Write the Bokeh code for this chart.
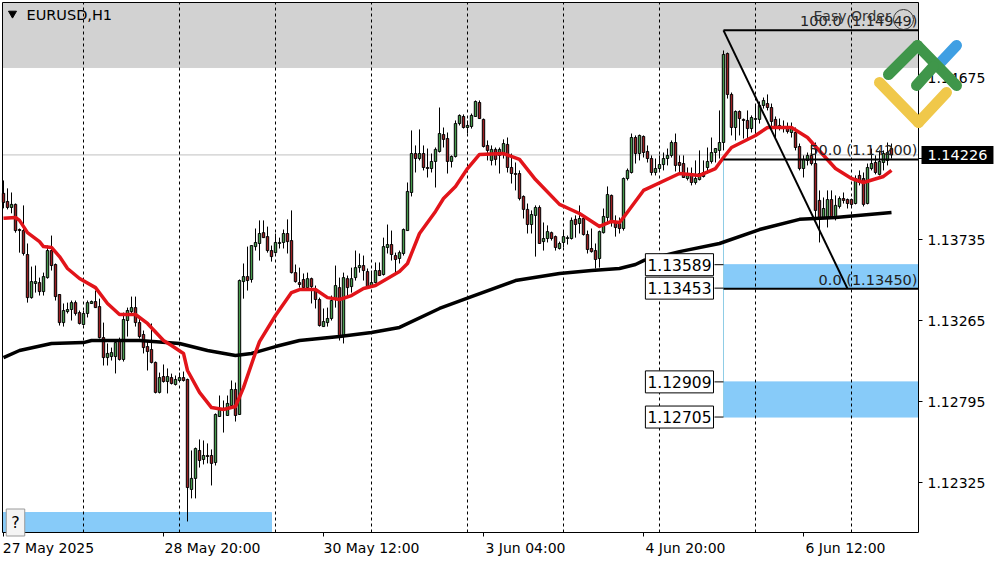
from bokeh.embed import file_html
from bokeh.models import (Arrow, ColumnDataSource, FixedTicker, Label,
                          PrintfTickFormatter, Range1d)
from bokeh.plotting import figure
from bokeh.resources import INLINE

# Quotes, in points (1 point = 0.00001)
open_pts = [114003,113956,113921,113939,113793,113787,113648,113398,113480,113485,113433,113514,113671,113590,113416,113253,113317,113329,113369,113311,113242,113306,113364,113375,113346,113166,113050,113056,113056,113149,113039,113265,113317,113340,113253,113184,113114,113097,113022,112848,112940,112911,112934,112894,112917,112934,112923,112285,112349,112511,112459,112482,112482,112441,112708,112755,112714,112772,112865,112720,113491,113520,113503,113694,113712,113775,113752,113671,113659,113712,113718,113770,113729,113543,113485,
113503,113456,113508,113439,113387,113230,113253,113277,113387,113456,113172,113508,113462,113514,113572,113584,113549,113462,113485,113555,113532,113689,113706,113642,113625,113654,113787,114008,114234,114205,114234,114153,114147,114188,114246,114344,114321,114188,114217,114408,114449,114385,114391,114449,114530,114432,114281,114194,114258,114223,114234,114287,114153,114118,114118,113985,113910,113822,113875,113921,113723,113741,113775,113752,113683,113718,113741,113741,113852,113828,113857,113764,113683,113671,113625,113775,113863,113991,113834,113828,113799,114089,114124,114327,114234,114333,114246,114205,114124,114147,114170,114205,114223,114298,114182,114176,114089,114118,114066,114083,114124,114153,114188,114240,114252,114298,114814,114577,114385,114478,114432,114426,114379,114432,114432,114513,114524,114501,114432,114385,114391,114385,114356,114356,114275,114147,114194,114223,114176,113962,113863,113863,113967,113863,113927,113973,113967,113967,113944,114107,114089,113944,114147,114182,114113,114182,114194,114263]
high_pts = [114078,114032,114008,113944,113799,113933,113712,113578,113584,113514,113543,113700,113758,113596,113416,113364,113369,113381,113381,113323,113323,113381,113381,113439,113392,113253,113132,113108,113149,113166,113311,113340,113404,113404,113288,113207,113149,113248,113027,112963,113010,112987,112957,112946,112963,112969,112928,112511,112528,112575,112569,112552,112517,112726,112830,112801,112830,112917,112905,113503,113596,113694,113700,113799,113846,113846,113810,113700,113770,113746,113793,113852,113904,113590,113572,
113538,113543,113514,113468,113398,113335,113340,113410,113584,113514,113543,113526,113572,113671,113654,113642,113567,113555,113602,113602,113746,113822,113787,113659,113671,113799,114066,114368,114281,114374,114281,114263,114234,114269,114501,114385,114356,114223,114426,114461,114461,114426,114466,114542,114542,114437,114310,114281,114269,114269,114316,114327,114234,114182,114136,113991,113944,113904,113933,113933,113834,113817,113781,113758,113723,113781,113758,113863,113875,113933,113875,113787,113799,113712,113787,113915,114043,113996,113875,113863,114095,114147,114350,114339,114344,114339,114281,114223,114205,114223,114240,114263,114310,114350,114223,114223,114153,114153,114194,114252,114194,114269,114327,114263,114484,114832,114820,114588,114484,114484,114437,114484,114455,114513,114536,114559,114577,114524,114449,114437,114426,114414,114414,114385,114292,114223,114240,114292,114298,114020,113979,114020,114020,113991,113985,114008,113973,113973,114107,114136,114124,114176,114263,114223,114252,114252,114298,114292]
low_pts = [113916,113910,113887,113775,113659,113642,113369,113392,113427,113410,113410,113508,113555,113381,113236,113230,113306,113265,113294,113242,113236,113283,113364,113340,113161,113004,113004,113033,112958,113033,113027,113172,113306,113230,113161,113074,112975,113016,112842,112842,112905,112842,112894,112888,112911,112911,112099,112233,112233,112412,112430,112436,112308,112424,112708,112615,112714,112772,112679,112720,113392,113439,113485,113671,113613,113746,113659,113607,113654,113683,113683,113654,113538,113485,113456,
113439,113456,113364,113335,113230,113230,113230,113265,113340,113149,113132,113398,113427,113497,113543,113497,113456,113456,113480,113526,113526,113654,113613,113543,113596,113642,113787,113985,114124,114194,114136,114095,114124,114037,114240,114269,114118,114153,114211,114397,114379,114350,114379,114449,114437,114269,114194,114165,114165,114118,114205,114124,114060,114020,113962,113857,113770,113770,113636,113712,113671,113718,113729,113671,113677,113689,113706,113735,113746,113770,113758,113654,113659,113567,113572,113770,113822,113810,113752,113770,113787,114078,114118,114176,114194,114211,114182,114107,114107,114136,114136,114165,114211,114130,114124,114095,114078,114049,114054,114078,114095,114118,114176,114182,114205,114252,114553,114339,114310,114339,114321,114310,114356,114339,114408,114495,114484,114368,114327,114368,114356,114350,114327,114252,114136,114095,114165,114165,113857,113718,113857,113805,113857,113846,113915,113944,113915,113921,113939,114049,113927,113939,114136,114113,114107,114136,114165,114205]
close_pts = [113950,113921,113939,113787,113787,113654,113398,113491,113491,113433,113520,113671,113584,113404,113253,113323,113329,113369,113306,113248,113306,113369,113375,113340,113166,113050,113074,113079,113137,113039,113271,113323,113340,113253,113172,113108,113085,113022,112848,112934,112911,112940,112900,112923,112934,112917,112296,112349,112522,112453,112482,112476,112436,112720,112755,112749,112784,112865,112714,113497,113520,113497,113700,113718,113770,113746,113671,113636,113718,113718,113770,113723,113543,113491,113474,
113456,113508,113462,113387,113236,113259,113277,113381,113468,113172,113514,113456,113508,113572,113584,113555,113462,113485,113555,113526,113694,113706,113648,113619,113659,113793,114014,114234,114205,114234,114153,114147,114188,114258,114350,114316,114188,114217,114408,114455,114385,114397,114455,114536,114437,114275,114252,114258,114200,114258,114292,114153,114118,114113,113973,113910,113822,113880,113921,113712,113741,113781,113741,113689,113712,113752,113746,113846,113822,113857,113764,113677,113665,113619,113781,113869,113996,113834,113805,113799,114089,114136,114327,114234,114339,114240,114205,114124,114147,114170,114205,114223,114298,114165,114165,114095,114118,114066,114089,114118,114101,114188,114240,114263,114298,114809,114577,114385,114478,114437,114426,114379,114443,114437,114513,114542,114501,114420,114385,114397,114379,114362,114385,114269,114147,114200,114223,114176,113904,113863,113915,113967,113863,113933,113973,113962,113944,113939,114089,114066,113939,114153,114176,114124,114188,114234,114240,114226]

# Moving averages: bar index and value (points)
red_ma_bar = [0,3,4,6,9,10,12,14,16,19,23,26,29,33,36,40,42,45,46,49,52,55,58,60,63,64,68,72,74,78,81,84,87,90,93,96,99,101,104,108,110,113,116,119,125,129,133,139,144,149,152,154,155,160,169,174,178,180,182,188,191,197,201,203,208,212,215,220,222]
red_ma_pts = [113858,113863,113846,113775,113723,113694,113689,113636,113567,113509,113456,113364,113300,113300,113248,113149,113120,113074,112975,112848,112760,112749,112766,112876,113079,113143,113294,113427,113445,113445,113398,113387,113410,113451,113468,113509,113549,113596,113770,113898,113973,114043,114147,114229,114234,114200,114083,113939,113886,113811,113840,113834,113863,114020,114118,114107,114147,114211,114269,114339,114385,114385,114327,114275,114147,114089,114066,114101,114136]
black_ma_bar = [0,4,12,20,22,34,44,51,58,62,68,74,84,92,99,109,117,128,139,147,154,158,160,169,179,189,199,208,222]
black_ma_pts = [113050,113091,113132,113137,113149,113149,113132,113091,113062,113074,113114,113149,113172,113196,113225,113335,113404,113497,113538,113555,113567,113590,113613,113665,113712,113793,113852,113863,113892]

# Axes
price_ticks = [1.14675, 1.14205, 1.13735, 1.13265, 1.12795, 1.12325]
time_label_bars = [0, 40, 80, 120, 160, 200]
time_label_centers = [11.25, 52.25, 92.0, 130.5, 170.5, 210.5]
time_labels = ["27 May 2025", "28 May 20:00", "30 May 12:00", "3 Jun 04:00", "4 Jun 20:00", "6 Jun 12:00"]
grid_bars = [20, 44, 68, 92, 116, 140, 164, 188, 212]

# Levels and zones
last_price = 1.14226
fib_start_bar, fib_end_bar = 180, 211
fib_levels = [1.14949, 1.14200, 1.13450]
fib_texts = ["100.0 (1.14949)", "50.0 (1.14200)", "0.0 (1.13450)"]
zone_tops = [1.13589, 1.12909]
zone_bottoms = [1.13453, 1.12705]
zone_labels = ["1.13589", "1.13453", "1.12909", "1.12705"]
zone_values = [1.13589, 1.13453, 1.12909, 1.12705]
zone_start_bar = 180
zone_line_low, zone_line_high = 1.12705, 1.14211
gray_band_bottom = 1.14733
pane_band = (1.12035, 1.12151)
pane_band_end_bar = 67

# Layout helpers for the decoration placed at page positions
FONT = "DejaVu Sans"
def X(px): return (px - 3) / 4
def P(py): return 1.15122 - py * 5.8025e-5

BAR_END = X(918)
BOTTOM, TOP = P(532), P(2)
n = len(open_pts)
bars = list(range(n))
GREEN, RED = "#469a4c", "#9c1f22"
src = ColumnDataSource(dict(
    x=bars,
    o=[v / 1e5 for v in open_pts], h=[v / 1e5 for v in high_pts],
    l=[v / 1e5 for v in low_pts], c=[v / 1e5 for v in close_pts],
    color=[GREEN if c >= o else RED for o, c in zip(open_pts, close_pts)],
))

# The frame fills the canvas so the price tag and logo can sit past the price axis
p = figure(width=1000, height=562, output_backend="svg", toolbar_location=None,
           x_range=Range1d(X(0), X(1000)), y_range=Range1d(P(562), P(0)),
           y_axis_location="right",
           min_border_left=0, min_border_top=0, min_border_right=0, min_border_bottom=0,
           background_fill_color="white")
p.styles = {"position": "absolute", "left": "0", "top": "0"}
p.outline_line_color = None
p.grid.visible = False

ya = p.yaxis[0]
ya.fixed_location = BAR_END
ya.bounds = (BOTTOM, TOP)
ya.ticker = FixedTicker(ticks=price_ticks)
ya.formatter = PrintfTickFormatter(format="%.5f")
ya.major_label_text_font = FONT
ya.major_label_text_font_size = "14px"
ya.major_label_text_color = "black"
ya.major_tick_in = 0
ya.major_tick_out = 4
ya.major_label_standoff = 5
ya.minor_tick_line_color = None
ya.axis_line_color = "black"

xa = p.xaxis[0]
xa.fixed_location = BOTTOM
xa.bounds = (X(2), BAR_END)
xa.ticker = FixedTicker(ticks=time_label_centers, minor_ticks=time_label_bars)
xa.major_label_overrides = dict(zip(time_label_centers, time_labels))
xa.major_label_text_font = FONT
xa.major_label_text_font_size = "14px"
xa.major_label_text_color = "black"
xa.major_tick_line_color = None
xa.major_tick_in = 0
xa.major_tick_out = 4
xa.minor_tick_in = 0
xa.minor_tick_out = 4
xa.minor_tick_line_color = "black"
xa.major_label_standoff = 3
xa.axis_line_color = "black"

# Bands
BLUE = "#87cbf9"
p.quad(left=X(2), right=BAR_END, bottom=gray_band_bottom, top=TOP, color="#d2d2d2", level="image")
p.quad(left=[zone_start_bar] * 2, right=[BAR_END] * 2, bottom=zone_bottoms, top=zone_tops,
       color=BLUE, level="image")
p.quad(left=X(2), right=pane_band_end_bar, bottom=pane_band[0], top=pane_band[1], color=BLUE, level="image")
p.segment(x0=X(2), x1=BAR_END, y0=last_price, y1=last_price, color="#c0c0c0", line_width=1, level="image")

# Grid and pane edges
for g in grid_bars:
    p.line([g, g], [BOTTOM, TOP], color="black", line_width=1, line_dash=[3, 3], level="underlay")
p.segment(x0=[X(2), X(2)], x1=[X(2), BAR_END], y0=[BOTTOM, TOP], y1=[TOP, TOP], color="black", line_width=1)
p.segment(x0=zone_start_bar, x1=zone_start_bar, y0=zone_line_low, y1=zone_line_high, color="#8fcde6", line_width=1)

# Candles
p.segment(x0="x", x1="x", y0="l", y1="h", source=src, color="black", line_width=1)
p.vbar(x="x", width=0.6, bottom="o", top="c", source=src, fill_color="color", line_color="black", line_width=1)

# Moving averages
p.line(black_ma_bar, [v / 1e5 for v in black_ma_pts], color="black", line_width=3.5, line_join="round")
p.line(red_ma_bar, [v / 1e5 for v in red_ma_pts], color="#e2141a", line_width=3.5, line_join="round")

# Fibonacci fan
for lvl in fib_levels:
    p.line([fib_start_bar, BAR_END], [lvl, lvl], color="black", line_width=2)
p.line([fib_start_bar, fib_end_bar], [fib_levels[0], fib_levels[2]], color="black", line_width=2)
for lvl, txt in zip(fib_levels, fib_texts):
    p.add_layout(Label(x=X(917), y=lvl, text=txt, text_align="right", text_baseline="bottom", y_offset=1,
                       text_font=FONT, text_font_size="14.5px", text_color="#222222"))

# Zone labels with leader lines
for val, txt in zip(zone_values, zone_labels):
    p.line([X(714), zone_start_bar], [val, val], color="black", line_width=1)
    p.add_layout(Label(x=X(713), y=val, text=txt, text_align="right", text_baseline="middle",
                       text_font=FONT, text_font_size="15.5px", text_color="black", padding=(2, 5),
                       background_fill_color="white", border_line_color="black"))

# Pane decorations
p.add_layout(Label(x=X(26), y=P(14), text="EURUSD,H1", text_baseline="middle",
                   text_font=FONT, text_font_size="14.5px", text_color="black"))
p.scatter([X(12)], [P(13)], marker="inverted_triangle", size=8, color="black")
p.add_layout(Label(x=X(813), y=P(15), text="Easy Order", text_baseline="middle",
                   text_font=FONT, text_font_size="14px", text_color="#333333"))
p.scatter([X(903)], [P(19)], marker="circle", size=20, fill_color=None, line_color="#333333", line_width=1)
p.add_layout(Label(x=X(15), y=P(522), text="?", text_align="center", text_baseline="middle",
                   text_font=FONT, text_font_size="16px", text_color="black", padding=(5, 4),
                   background_fill_color="#f4f4f4", border_line_color="#9a9a9a"))

# Last price tag
p.add_layout(Label(x=X(921), y=last_price, text="1.14226", text_baseline="middle",
                   text_font=FONT, text_font_size="14.5px", text_color="white", padding=(6, 4),
                   background_fill_color="black"))

# Logo strokes
def stroke(x0, y0, x1, y1, color):
    p.add_layout(Arrow(end=None, x_start=X(x0), y_start=P(y0), x_end=X(x1), y_end=P(y1),
                       line_color=color, line_width=11, line_cap="round"))
for seg in [(940, 62, 956, 45, "#3f9fe3"),
            (879, 82, 918, 122, "#f0c84a"), (918, 122, 946, 92, "#f0c84a"),
            (888, 74, 917, 45, "#3f964a"), (917, 45, 956, 85, "#3f964a"), (916, 85, 933, 66, "#3f964a")]:
    stroke(*seg)

open("out.html", "w").write(file_html(p, INLINE))
